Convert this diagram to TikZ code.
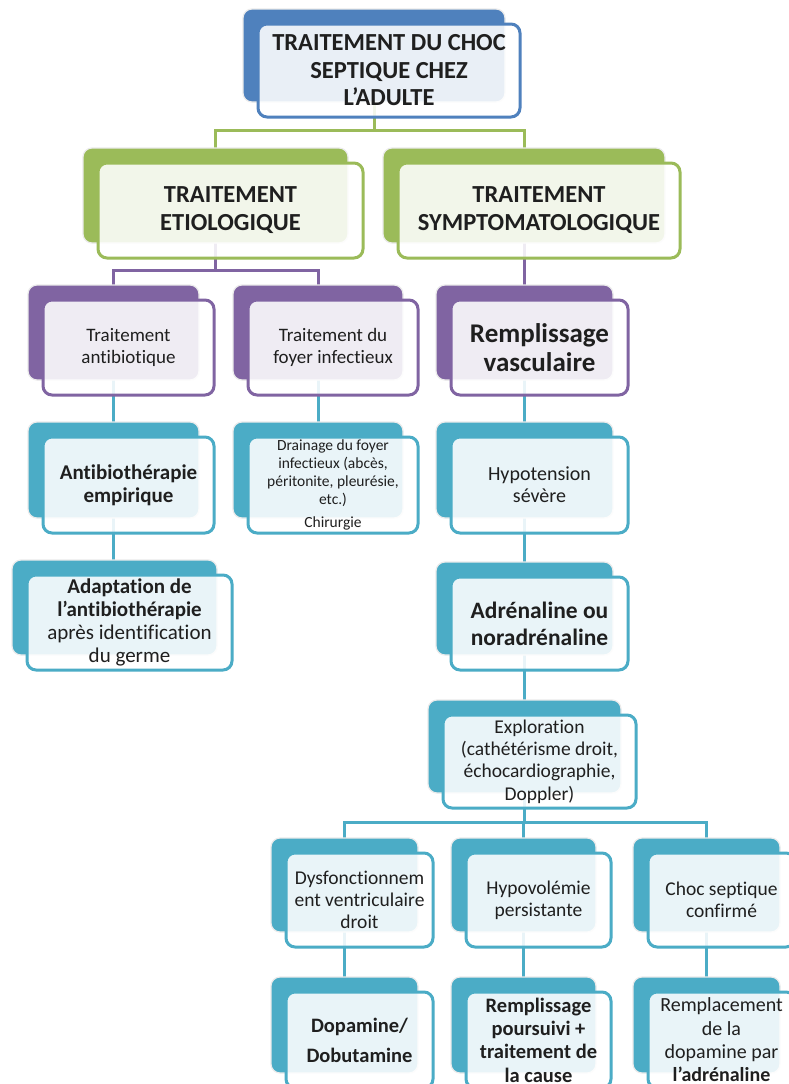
\documentclass[tikz,border=0pt]{standalone}
\usepackage{fontspec}
\setmainfont{Carlito}[Ligatures=NoCommon]
\usetikzlibrary{backgrounds}
\definecolor{cblue}{HTML}{4F81BD}
\definecolor{cgreen}{HTML}{9BBB59}
\definecolor{cpurple}{HTML}{8064A2}
\definecolor{cteal}{HTML}{4BACC6}
\newcommand\fs[2]{\fontsize{#1}{#2}\selectfont}
\tikzset{
 backbox/.style={fill=#1, draw=black!8, line width=1.2pt, rounded corners=9pt, inner sep=0pt, outer sep=0pt},
 frontbox/.style={draw=#1, line width=3pt, fill=white, fill opacity=0.88, text opacity=1, rounded corners=9pt, inner sep=0pt, outer sep=0pt, align=center, text=black!88},
 conn/.style={draw=#1, line width=3pt},
}
\newcommand\mybox[8][]{%
 \pgfmathsetmacro\bw{#6-#4}\pgfmathsetmacro\bh{#7-#5}%
 \pgfmathsetmacro\cx{(#4+#6)/2}\pgfmathsetmacro\cy{(#5+#7)/2}%
 \node[backbox=#3, minimum width=\bw pt, minimum height=\bh pt] (#2b) at (\cx-15,\cy-15) {};
 \node[frontbox=#3, minimum width=\bw pt, minimum height=\bh pt, #1] (#2) at (\cx,\cy) {#8};
}
\begin{document}
\begin{tikzpicture}[x=1pt,y=-1pt]
\useasboundingbox (0,0) rectangle (789,1084);
\clip (0,0) rectangle (789,1084);
% level 1
\mybox[font=\fs{24.5}{27.5}\bfseries]{top}{cblue}{258}{24}{520}{117}{TRAITEMENT DU CHOC\\SEPTIQUE CHEZ\\L’ADULTE}
% level 2
\mybox[font=\fs{24.5}{28}\bfseries]{etio}{cgreen}{98}{163}{363}{258}{TRAITEMENT\\ETIOLOGIQUE}
\mybox[font=\fs{24.5}{28}\bfseries]{symp}{cgreen}{398}{163}{680}{258}{TRAITEMENT\\SYMPTOMATOLOGIQUE}
% level 3
\mybox[font=\fs{19}{21.5}]{antib}{cpurple}{43}{300}{214}{395}{Traitement\\antibiotique}
\mybox[font=\fs{19}{21.5}]{foyer}{cpurple}{248}{300}{418}{395}{Traitement du\\foyer infectieux}
\mybox[font=\fs{27}{29.5}\bfseries]{rempl}{cpurple}{451}{300}{628}{395}{Remplissage\\vasculaire}
% level 4
\mybox[font=\fs{21}{23}\bfseries]{emp}{cteal}{43}{437}{214}{533}{Antibiothérapie\\empirique}
\mybox[font=\fs{15.5}{17.8}]{drain}{cteal}{248}{437}{418}{533}{Drainage du foyer\\infectieux (abcès,\\péritonite, pleurésie,\\etc.)\\[5pt]Chirurgie}
\mybox[font=\fs{20}{22}]{hypo}{cteal}{451}{437}{628}{533}{Hypotension\\sévère}
% level 5
\mybox[font=\fs{21}{23}]{adapt}{cteal}{27}{575}{232}{670}{\textbf{Adaptation de}\\\textbf{l’antibiothérapie}\\après identification\\du germe}
\mybox[font=\fs{23.5}{27}\bfseries]{adren}{cteal}{451}{577}{628}{670}{Adrénaline ou\\noradrénaline}
% level 6
\mybox[font=\fs{19.5}{22.3}]{explo}{cteal}{443}{715}{636}{808}{Exploration\\(cathétérisme droit,\\échocardiographie,\\Doppler)}
% level 7
\mybox[font=\fs{19.5}{21.7}]{dysf}{cteal}{286}{853}{433}{947}{Dysfonctionnem\\ent ventriculaire\\droit}
\mybox[font=\fs{19.5}{21.7}]{hypov}{cteal}{466}{853}{611}{947}{Hypovolémie\\persistante}
\mybox[font=\fs{19.5}{21.7}]{choc}{cteal}{648}{853}{795}{947}{Choc septique\\confirmé}
% level 8
\mybox[font=\fs{20.5}{30}\bfseries]{dopa}{cteal}{286}{992}{433}{1088}{Dopamine/\\Dobutamine}
\mybox[font=\fs{20.5}{23.3}\bfseries, text depth=0pt]{rpour}{cteal}{466}{992}{611}{1088}{Remplissage\\poursuivi +\\traitement de\\la cause}
\mybox[font=\fs{20}{23.3}]{rplac}{cteal}{648}{992}{795}{1088}{Remplacement\\de la\\dopamine par\\\textbf{l’adrénaline}}
\begin{pgfonlayer}{background}
\fill[white] (0,0) rectangle (789,1084);
\draw[conn=cgreen] (topb.south) -- ++(0,28) -| (etiob.north);
\draw[conn=cgreen] (topb.south) ++(0,28) -| (sympb.north);
\draw[conn=cpurple] (etiob.south) -- ++(0,27) -| (antibb.north);
\draw[conn=cpurple] (etiob.south) ++(0,27) -| (foyerb.north);
\draw[conn=cpurple] (sympb.south) -- (sympb.south |- remplb.north);
\draw[conn=cteal] (antibb.south) -- (antibb.south |- empb.north);
\draw[conn=cteal] (foyerb.south) -- (foyerb.south |- drainb.north);
\draw[conn=cteal] (remplb.south) -- (remplb.south |- hypob.north);
\draw[conn=cteal] (empb.south) -- (empb.south |- adaptb.north);
\draw[conn=cteal] (hypob.south) -- (hypob.south |- adrenb.north);
\draw[conn=cteal] (adrenb.south) -- (adrenb.south |- explob.north);
\draw[conn=cteal] (explob.south) -- ++(0,29) -| (dysfb.north);
\draw[conn=cteal] (explob.south) ++(0,29) -| (hypovb.north);
\draw[conn=cteal] (explob.south) ++(0,29) -| (chocb.north);
\draw[conn=cteal] (dysfb.south) -- (dysfb.south |- dopab.north);
\draw[conn=cteal] (hypovb.south) -- (hypovb.south |- rpourb.north);
\draw[conn=cteal] (chocb.south) -- (chocb.south |- rplacb.north);
\end{pgfonlayer}
\end{tikzpicture}
\end{document}
